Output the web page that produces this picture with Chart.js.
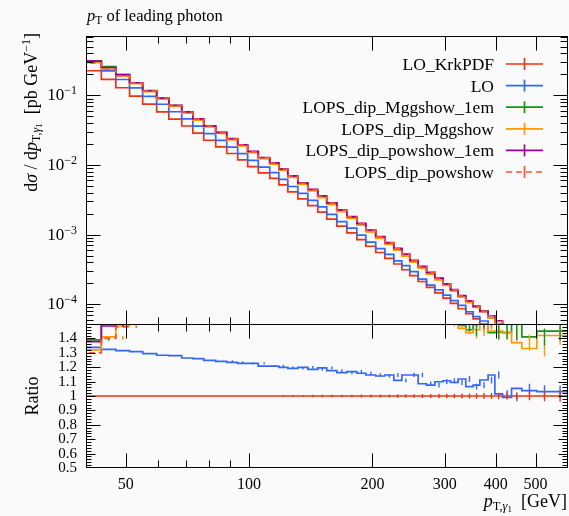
<!DOCTYPE html>
<html>
<head>
<meta charset="utf-8">
<script src="https://cdn.jsdelivr.net/npm/chart.js@4.4.1/dist/chart.umd.min.js"></script>
<style>
  html, body { margin: 0; padding: 0; background: #fafafa; }
  #wrap { position: relative; width: 569px; height: 516px; background: #fafafa; }
  canvas { position: absolute; left: 0; }
  #topChart { top: 0; }
  #ratioChart { top: 324px; }
</style>
</head>
<body>
<div id="wrap">
  <canvas id="topChart" width="569" height="325"></canvas>
  <canvas id="ratioChart" width="569" height="192"></canvas>
</div>
<script>
// bin edges of p_T(gamma1) in GeV
const binEdges = [40, 43.6, 47.3, 51.1, 55, 59.5, 63.7, 68.5, 72.9, 77.5, 82.9, 88.2, 93.8, 99.2,
  105.3, 112.3, 118.2, 124.3, 131.5, 139.1, 147.1, 154.7, 163.7, 173.2, 183.2, 192.7, 203.7,
  214.4, 225.5, 235.9, 246.7, 258.5, 271, 283.9, 297.4, 310.1, 323.6, 337.9, 352.1, 365.6,
  383, 397.8, 415.4, 436.9, 462.9, 503.6, 548, 600];

// reference curve LO_KrkPDF, dsigma/dpT in pb/GeV
const krkPdf = [0.306, 0.226, 0.1694, 0.1287, 0.0977, 0.0749, 0.0581, 0.0455, 0.0363, 0.0287,
  0.02266, 0.01816, 0.01464, 0.01188, 0.00948, 0.0077, 0.00642, 0.00519, 0.00412, 0.00326,
  0.002615, 0.0021, 0.001666, 0.001321, 0.001058, 8.5e-4, 6.81e-4, 5.53e-4, 4.55e-4, 3.78e-4,
  3.13e-4, 2.57e-4, 2.12e-4, 1.75e-4, 1.46e-4, 1.224e-4, 1.027e-4, 8.61e-5, 7.32e-5, 6.16e-5,
  5.17e-5, 4.38e-5, 3.62e-5, 2.89e-5, 2.15e-5, 1.52e-5, 1.06e-5];

// ratios to LO_KrkPDF
const loRatio = [1.350, 1.338, 1.324, 1.315, 1.308, 1.294, 1.283, 1.280, 1.264, 1.259, 1.248,
  1.241, 1.234, 1.227, 1.227, 1.208, 1.208, 1.199, 1.192, 1.199, 1.185, 1.195, 1.176, 1.162,
  1.169, 1.158, 1.146, 1.139, 1.146, 1.108, 1.146, 1.146, 1.085, 1.076, 1.099, 1.106, 1.095,
  1.118, 1.065, 1.076, 1.111, 1.146, 1.015, 0.990, 1.053, 1.037, 1.030];
const mgg1emRatio = [1.255, 1.390, 1.530, 1.560, 1.535, 1.545, 1.555, 1.565, 1.575, 1.585, 1.595,
  1.605, 1.615, 1.625, 1.635, 1.645, 1.655, 1.665, 1.670, 1.675, 1.680, 1.685, 1.685, 1.685,
  1.685, 1.680, 1.675, 1.670, 1.660, 1.650, 1.640, 1.630, 1.620, 1.610, 1.595, 1.575, 1.555,
  1.490, 1.460, 1.520, 1.550, 1.440, 1.445, 1.440, 1.600, 1.410, 1.450];
const mggRatio = [1.195, 1.320, 1.410, 1.486, 1.510, 1.515, 1.520, 1.525, 1.530, 1.540, 1.550,
  1.560, 1.570, 1.580, 1.590, 1.600, 1.605, 1.610, 1.615, 1.620, 1.620, 1.620, 1.620, 1.615,
  1.610, 1.605, 1.600, 1.595, 1.590, 1.580, 1.570, 1.560, 1.550, 1.540, 1.530, 1.520, 1.505,
  1.470, 1.440, 1.460, 1.510, 1.450, 1.450, 1.440, 1.370, 1.330, 1.420];
const pow1emRatio = [1.240, 1.377, 1.486, 1.530, 1.555, 1.565, 1.575, 1.585, 1.595, 1.605, 1.615,
  1.625, 1.635, 1.645, 1.655, 1.665, 1.675, 1.685, 1.695, 1.700, 1.705, 1.710, 1.715, 1.715,
  1.715, 1.710, 1.705, 1.700, 1.690, 1.680, 1.670, 1.660, 1.650, 1.640, 1.620, 1.600, 1.580,
  1.550, 1.530, 1.510, 1.530, 1.560, 1.600, 1.580, 1.620, 1.600, 1.620];
const powRatio = [1.180, 1.300, 1.400, 1.480, 1.540, 1.550, 1.560, 1.570, 1.580, 1.590, 1.600,
  1.610, 1.620, 1.630, 1.640, 1.650, 1.660, 1.670, 1.680, 1.685, 1.690, 1.695, 1.700, 1.700,
  1.700, 1.695, 1.690, 1.685, 1.675, 1.665, 1.655, 1.645, 1.635, 1.625, 1.605, 1.585, 1.565,
  1.545, 1.525, 1.495, 1.530, 1.560, 1.600, 1.580, 1.620, 1.600, 1.620];

// relative statistical errors
const refErr = [0.004, 0.004, 0.004, 0.004, 0.004, 0.005, 0.005, 0.005, 0.005, 0.005, 0.005,
  0.006, 0.006, 0.006, 0.006, 0.006, 0.007, 0.007, 0.007, 0.008, 0.008, 0.008, 0.009, 0.009,
  0.010, 0.010, 0.011, 0.011, 0.012, 0.012, 0.013, 0.014, 0.014, 0.015, 0.016, 0.016, 0.017,
  0.018, 0.019, 0.020, 0.021, 0.022, 0.024, 0.026, 0.030, 0.036, 0.040];
const lopsErr = [0.005, 0.005, 0.005, 0.005, 0.006, 0.006, 0.006, 0.007, 0.007, 0.007, 0.008,
  0.008, 0.008, 0.009, 0.009, 0.010, 0.010, 0.011, 0.011, 0.012, 0.012, 0.013, 0.013, 0.014,
  0.015, 0.015, 0.016, 0.017, 0.018, 0.019, 0.020, 0.021, 0.022, 0.023, 0.024, 0.025, 0.026,
  0.027, 0.028, 0.030, 0.032, 0.034, 0.036, 0.038, 0.040, 0.042, 0.045];

// axis ticks
const xMajor = [50, 100, 200, 300, 400, 500];
const xMinor = [60, 70, 80, 90];
const yTopMajor = [1e-1, 1e-2, 1e-3, 1e-4];
const ratioLabels = [0.5, 0.6, 0.7, 0.8, 0.9, 1.0, 1.1, 1.2, 1.3, 1.4];

const FONT = '"Liberation Serif", "DejaVu Serif", serif';

const series = [
  { label: "LO_KrkPDF", ratio: null, err: refErr, color: "#ee3311", dash: [] },
  { label: "LO", ratio: loRatio, err: refErr, color: "#3366ff", dash: [] },
  { label: "LOPS_dip_Mggshow_1em", ratio: mgg1emRatio, err: lopsErr, color: "#109618", dash: [] },
  { label: "LOPS_dip_Mggshow", ratio: mggRatio, err: lopsErr, color: "#ff9900", dash: [] },
  { label: "LOPS_dip_powshow_1em", ratio: pow1emRatio, err: lopsErr, color: "#990099", dash: [] },
  { label: "LOPS_dip_powshow", ratio: powRatio, err: lopsErr, color: "#ff5533", dash: [6, 4] },
];

const binCenters = binEdges.slice(0, -1).map((lo, i) => (lo + binEdges[i + 1]) / 2);

function stepPoints(vals) {
  const pts = vals.map((v, i) => ({ x: binEdges[i], y: v }));
  pts.push({ x: binEdges[vals.length], y: vals[vals.length - 1] });
  return pts;
}

function makeDataset(s, vals, idx) {
  return {
    label: s.label,
    data: stepPoints(vals),
    errs: vals.map((v, i) => v * s.err[i]),
    stepped: "after",
    borderColor: s.color,
    borderDash: s.dash,
    borderWidth: 1.7,
    pointRadius: 0,
    fill: false,
    clip: 0,
    order: series.length - idx, // later series drawn on top
  };
}

const topSets = series.map((s, idx) => {
  const r = s.ratio || krkPdf.map(() => 1);
  return makeDataset(s, krkPdf.map((v, i) => v * r[i]), idx);
});
const ratioSets = series.map((s, idx) => makeDataset(s, s.ratio || krkPdf.map(() => 1), idx));

// rich text: list of [text, font, dy]
function richText(ctx, parts, x, y, align) {
  let w = 0;
  parts.forEach(p => { ctx.font = p[1]; w += ctx.measureText(p[0]).width; });
  let cx = align === "right" ? x - w : align === "center" ? x - w / 2 : x;
  ctx.textAlign = "left";
  ctx.textBaseline = "alphabetic";
  parts.forEach(p => {
    ctx.font = p[1];
    ctx.fillText(p[0], cx, y + (p[2] || 0));
    cx += ctx.measureText(p[0]).width;
  });
}

// vertical error bars at bin centres (ratio panel)
const errorBars = {
  id: "errorBars",
  afterDatasetsDraw(chart) {
    const { ctx, chartArea: a, scales } = chart;
    ctx.save();
    ctx.beginPath();
    ctx.rect(a.left, a.top, a.right - a.left, a.bottom - a.top);
    ctx.clip();
    chart.data.datasets.slice().reverse().forEach(ds => {
      ctx.strokeStyle = ds.borderColor;
      ctx.lineWidth = 1.4;
      ctx.beginPath();
      binCenters.forEach((c, i) => {
        const v = ds.data[i].y;
        const px = scales.x.getPixelForValue(c);
        const y1 = scales.y.getPixelForValue(v + ds.errs[i]);
        const y2 = scales.y.getPixelForValue(v - ds.errs[i]);
        if (y2 - y1 < 2) return;
        ctx.moveTo(px, y1);
        ctx.lineTo(px, y2);
      });
      ctx.stroke();
    });
    ctx.restore();
  },
};

const frame = {
  id: "frame",
  afterDraw(chart, args, opts) {
    const { ctx, chartArea: a, scales } = chart;
    const L = Math.round(a.left) + 0.5, R = Math.round(a.right) - 0.5;
    const T = Math.round(a.top) + 0.5, B = Math.round(a.bottom) - 0.5;
    ctx.save();
    ctx.strokeStyle = "#000";
    ctx.lineWidth = 1;
    ctx.beginPath();
    const xt = (v, len) => {
      const p = Math.round(scales.x.getPixelForValue(v)) + 0.5;
      ctx.moveTo(p, T); ctx.lineTo(p, T + len);
      ctx.moveTo(p, B); ctx.lineTo(p, B - len);
    };
    xMajor.forEach(v => xt(v, 14));
    xMinor.forEach(v => xt(v, 7));
    const yt = (v, len) => {
      const p = Math.round(scales.y.getPixelForValue(v)) + 0.5;
      if (p < T - 0.1 || p > B + 0.1) return;
      ctx.moveTo(L, p); ctx.lineTo(L + len, p);
      ctx.moveTo(R, p); ctx.lineTo(R - len, p);
    };
    opts.yTicks.forEach(t => yt(t[0], t[1]));
    ctx.stroke();
    ctx.strokeRect(L, T, R - L, B - T);
    ctx.restore();
  },
};

const topLabels = {
  id: "topLabels",
  afterDraw(chart) {
    const { ctx, scales } = chart;
    ctx.save();
    ctx.fillStyle = "#000";
    // y tick labels
    yTopMajor.forEach(v => {
      const p = scales.y.getPixelForValue(v);
      const e = "\u2212" + Math.round(-Math.log10(v));
      richText(ctx, [["10", "17px " + FONT, 0], [e, "12px " + FONT, -6]], 77, p + 5, "right");
    });
    // title
    richText(ctx, [["p", "italic 16.5px " + FONT, 0], ["T", "11.5px " + FONT, 3],
      [" of leading photon", "16.5px " + FONT, 0]], 87, 21, "left");
    // y axis title
    ctx.save();
    ctx.translate(37, 33);
    ctx.rotate(-Math.PI / 2);
    richText(ctx, [["d", "18px " + FONT, 0], ["\u03c3", "italic 18px " + FONT, 0],
      [" / d", "18px " + FONT, 0], ["p", "italic 18px " + FONT, 0],
      ["T,", "12px " + FONT, 3], ["\u03b3", "italic 12px " + FONT, 3], ["1", "9px " + FONT, 5],
      ["  [pb GeV", "18px " + FONT, 0], ["\u22121", "12px " + FONT, -7], ["]", "18px " + FONT, 0]],
      0, 0, "right");
    ctx.restore();
    // legend
    series.forEach((s, i) => {
      const y = 64 + i * 21.6;
      ctx.font = "17.5px " + FONT;
      ctx.textAlign = "right";
      ctx.textBaseline = "alphabetic";
      ctx.fillStyle = "#000";
      ctx.fillText(s.label, 494, y + 6);
      ctx.strokeStyle = s.color;
      ctx.lineWidth = 1.7;
      ctx.setLineDash(s.dash);
      ctx.beginPath();
      ctx.moveTo(506, y); ctx.lineTo(543, y);
      ctx.stroke();
      ctx.setLineDash([]);
      ctx.beginPath();
      ctx.moveTo(524.5, y - 6); ctx.lineTo(524.5, y + 6);
      ctx.stroke();
    });
    ctx.restore();
  },
};

const ratioText = {
  id: "ratioText",
  afterDraw(chart) {
    const { ctx } = chart;
    ctx.save();
    ctx.fillStyle = "#000";
    ctx.save();
    ctx.translate(38, 72);
    ctx.rotate(-Math.PI / 2);
    richText(ctx, [["Ratio", "18px " + FONT, 0]], 0, 0, "center");
    ctx.restore();
    richText(ctx, [["p", "italic 18px " + FONT, 0], ["T,", "12.5px " + FONT, 3],
      ["\u03b3", "italic 12.5px " + FONT, 3], ["1", "9px " + FONT, 5],
      ["  [GeV]", "18px " + FONT, 0]], 567, 183, "right");
    ctx.restore();
  },
};

const topTicks = [];
yTopMajor.forEach(v => topTicks.push([v, 14]));
[-5, -4, -3, -2, -1].forEach(k => {
  for (let m = 2; m <= 9; m++) topTicks.push([m * Math.pow(10, k), 7]);
});
const ratioTicks = [];
for (let k = 25; k <= 75; k++) {
  const v = k / 50;
  ratioTicks.push([v, k % 5 === 0 ? (k % 20 === 0 ? 14 : 9) : 5]);
}

const noPad = s => { s.paddingTop = 0; s.paddingBottom = 0; s.paddingLeft = 0; s.paddingRight = 0; };

new Chart(document.getElementById("topChart"), {
  type: "line",
  data: { datasets: topSets },
  options: {
    responsive: false,
    devicePixelRatio: 1,
    animation: false,
    layout: { padding: { left: 0, right: 1, top: 36, bottom: 0 } },
    scales: {
      x: { type: "logarithmic", min: 40, max: 600, display: false },
      y: {
        type: "logarithmic", min: 5.03e-5, max: 0.713,
        grid: { display: false, drawTicks: false },
        border: { display: false },
        ticks: { display: false },
        afterFit: s => { s.width = 86; noPad(s); },
      },
    },
    plugins: {
      legend: { display: false },
      tooltip: { enabled: false },
      frame: { yTicks: topTicks },
    },
  },
  plugins: [frame, topLabels],
});

new Chart(document.getElementById("ratioChart"), {
  type: "line",
  data: { datasets: ratioSets },
  options: {
    responsive: false,
    devicePixelRatio: 1,
    animation: false,
    layout: { padding: { left: 0, right: 1, top: 0, bottom: 0 } },
    scales: {
      x: {
        type: "logarithmic", min: 40, max: 600,
        grid: { display: false, drawTicks: false },
        border: { display: false },
        afterBuildTicks: s => { s.ticks = xMajor.map(v => ({ value: v })); },
        afterFit: s => { s.height = 48; noPad(s); },
        ticks: {
          autoSkip: false, maxRotation: 0, minRotation: 0, padding: 7, color: "#000",
          font: { family: FONT, size: 16 },
          callback: v => String(v),
        },
      },
      y: {
        type: "linear", min: 0.5, max: 1.5,
        grid: { display: false, drawTicks: false },
        border: { display: false },
        afterBuildTicks: s => { s.ticks = ratioLabels.map(v => ({ value: v })); },
        afterFit: s => { s.width = 86; noPad(s); },
        ticks: {
          autoSkip: false, padding: 9, color: "#000",
          font: { family: FONT, size: 15 },
          callback: v => (Math.abs(v - 1) < 1e-6 ? "1" : v.toFixed(1)),
        },
      },
    },
    plugins: {
      legend: { display: false },
      tooltip: { enabled: false },
      frame: { yTicks: ratioTicks },
    },
  },
  plugins: [errorBars, frame, ratioText],
});
</script>
</body>
</html>
